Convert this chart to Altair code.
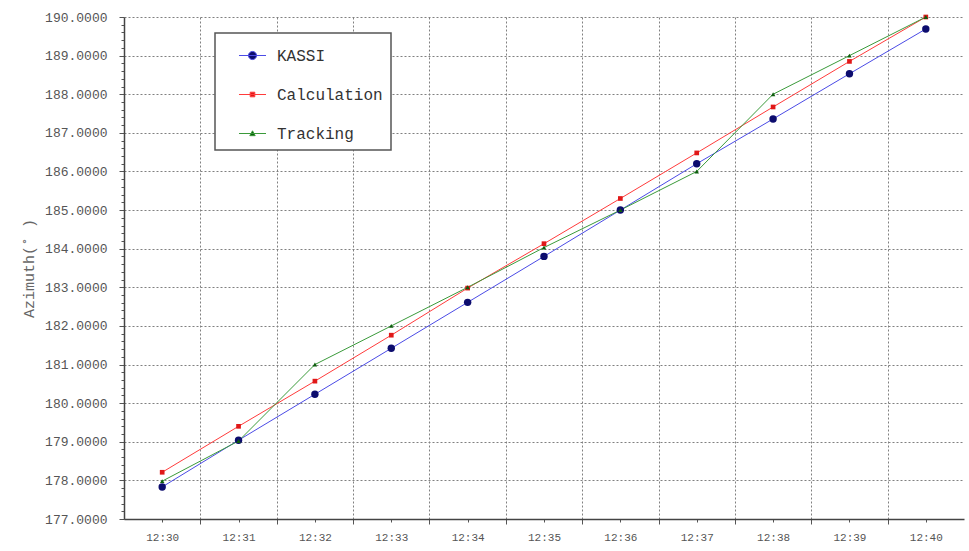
import altair as alt
import pandas as pd

times = ["12:30", "12:31", "12:32", "12:33", "12:34", "12:35", "12:36", "12:37", "12:38", "12:39", "12:40"]
series_names = ["KASSI", "Calculation", "Tracking"]
kassi = [177.83, 179.04, 180.23, 181.42, 182.61, 183.80, 185.00, 186.20, 187.36, 188.53, 189.69]
calc = [178.21, 179.40, 180.57, 181.76, 182.98, 184.13, 185.30, 186.48, 187.67, 188.85, 190.00]
track = [177.98, 179.02, 181.00, 182.00, 183.00, 184.03, 185.00, 186.00, 188.00, 189.00, 190.00]

rows = []
for i, t in enumerate(times):
    for name, vals in zip(series_names, [kassi, calc, track]):
        rows.append({"idx": i, "time": t, "series": name, "value": vals[i]})
df = pd.DataFrame(rows)

line_colors = ["#4b4be6", "#ff3b3b", "#3a9a3a"]
marker_colors = ["#0c0c6e", "#e01818", "#0d5e0d"]
marker_shapes = ["circle", "square", "triangle-up"]
marker_sizes = [55, 22, 20]
legend_paths = [
    "M-1,0H1M-0.3,0A0.3,0.3,0,1,0,0.3,0A0.3,0.3,0,1,0,-0.3,0Z",
    "M-1,0H1M-0.17,-0.17H0.17V0.17H-0.17Z",
    "M-1,0H1M0,-0.2L0.2,0.16H-0.2Z",
]

FONT = "Liberation Mono"
x_values = [i / 2 for i in range(21)]
y_values = [round(177 + 0.2 * i, 1) for i in range(66)]
label_arr = "[" + ",".join("'" + t + "'" for t in times) + "]"
x_label_expr = "datum.value % 1 == 0 ? " + label_arr + "[round(datum.value)] : ''"
y_major = "abs(datum.value - round(datum.value)) < 0.001"

x_enc = alt.X(
    "idx:Q",
    scale=alt.Scale(domain=[-0.5, 10.5], nice=False, zero=False),
    axis=alt.Axis(
        values=x_values,
        title=None,
        labelExpr=x_label_expr,
        gridOpacity={"condition": {"test": "datum.value % 1 != 0", "value": 1}, "value": 0},
        tickSize={"condition": {"test": "datum.value % 1 != 0", "value": 5}, "value": 3},
        labelOverlap=False,
        labelFont=FONT,
        labelFontSize=11,
        labelColor="#555",
        labelPadding=9,
    ),
)
y_enc = alt.Y(
    "value:Q",
    scale=alt.Scale(domain=[177, 190], nice=False, zero=False),
    axis=alt.Axis(
        values=y_values,
        title="Azimuth(˚ )",
        labelExpr=y_major + " ? format(datum.value, '.4f') : ''",
        gridOpacity={"condition": {"test": y_major, "value": 1}, "value": 0},
        tickSize={"condition": {"test": y_major, "value": 5}, "value": 3},
        labelOverlap=False,
        labelFont=FONT,
        labelFontSize=13,
        labelColor="#555",
        labelPadding=12,
        titleFont=FONT,
        titleFontSize=15,
        titleFontWeight="normal",
        titleColor="#666",
        titlePadding=8,
    ),
)

base = alt.Chart(df)

lines = base.mark_line(strokeWidth=1).encode(
    x=x_enc,
    y=y_enc,
    color=alt.Color("series:N", scale=alt.Scale(domain=series_names, range=line_colors), legend=None),
    detail="series:N",
)

point_layers = []
for name, col, shp, sz in zip(series_names, marker_colors, marker_shapes, marker_sizes):
    point_layers.append(
        base.transform_filter(alt.datum.series == name)
        .mark_point(filled=True, shape=shp, size=sz, color=col, opacity=1)
        .encode(x=x_enc, y=y_enc)
    )

legend_def = alt.Legend(
    title=None,
    orient="none",
    legendX=91,
    legendY=16,
    padding=8,
    symbolOffset=15,
    rowPadding=16,
    labelFont=FONT,
    labelFontSize=16,
    labelColor="#333",
    labelOffset=10,
    strokeColor="#555",
    fillColor="white",
    symbolSize=730,
    symbolStrokeWidth=1,
    symbolOpacity=1,
)

legend_layer = base.mark_point(
    filled=True, fillOpacity=0, strokeOpacity=0, size=730, strokeWidth=1
).encode(
    x=x_enc,
    y=y_enc,
    fill=alt.Fill("series:N", scale=alt.Scale(domain=series_names, range=marker_colors), legend=legend_def),
    stroke=alt.Stroke("series:N", scale=alt.Scale(domain=series_names, range=line_colors), legend=legend_def),
    shape=alt.Shape("series:N", scale=alt.Scale(domain=series_names, range=legend_paths), legend=legend_def),
)

chart = (
    alt.layer(legend_layer, lines, *point_layers)
    .properties(
        width=840,
        height=502,
        autosize=alt.AutoSizeParams(type="none"),
        padding={"left": 124, "top": 17, "right": 5, "bottom": 32},
        background="white",
    )
    .configure_view(stroke=None)
    .configure_axis(
        domainColor="#444",
        domainWidth=1.5,
        gridColor="#808080",
        gridDash=[2, 2],
        gridWidth=1,
        tickColor="#555",
    )
    .configure_legend(strokeWidth=1.5)
)

chart.save("out.html", embed_options={"renderer": "svg", "actions": False})
